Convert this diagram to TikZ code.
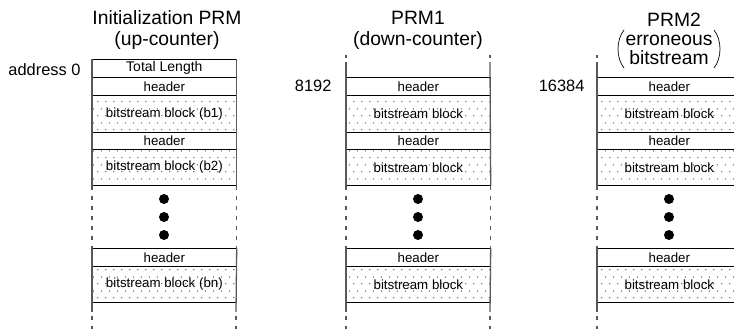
\documentclass[tikz,border=0pt]{standalone}
\usepackage{fontspec}
\setmainfont{Liberation Sans}
\usetikzlibrary{patterns.meta}
\tikzdeclarepattern{
  name=sparsedots,
  type=uncolored,
  bounding box={(0pt,0pt) and (8pt,14pt)},
  tile size={(8pt,14pt)},
  code={\fill (2pt,3.5pt) circle (0.7pt); \fill (6pt,10.5pt) circle (0.7pt);}
}
\begin{document}
\begin{tikzpicture}[x=1pt,y=-1pt,
  cell/.style={draw=black, line width=0.7pt, minimum width=144pt, inner sep=0pt, anchor=north west, font=\fontsize{13.3}{15}\selectfont},
  hdr/.style={cell, minimum height=18pt},
  bs/.style={cell, pattern=sparsedots, pattern color=black!75, minimum height=36pt},
  side/.style={draw=black!65, line width=1.3pt},
  sidedash/.style={side, dash pattern=on 4pt off 6pt},
  bigdot/.style={circle, fill=black, minimum size=10pt, inner sep=0pt},
  title/.style={align=center, font=\fontsize{19.3}{21}\selectfont},
  word/.style={inner sep=0pt, font=\fontsize{19.3}{21}\selectfont},
  paren/.style={draw=black, line width=0.7pt},
  addr/.style={anchor=east, font=\fontsize{16.4}{18}\selectfont}]
\useasboundingbox (0,0) rectangle (734,329);
\clip (0,0) rectangle (734,329);

% titles
\node[title] (t1) at (167,30.5) {Initialization PRM\\(up-counter)};
\node[title] (t2) at (418,30.5) {PRM1\\(down-counter)};
\node[title] (t3) at (674,20) {PRM2};
\node[word] (t3a) at (669,40) {erroneous};
\node[word] (t3b) at (669,57.5) {bitstream};
\draw[paren] (624,30) .. controls (616,40) and (616,58) .. (624,68);
\draw[paren] (714,30) .. controls (722,40) and (722,58) .. (714,68);

% address labels
\node[addr] (a1) at (84,70) {address 0};
\node[addr] (a2) at (335,86) {8192};
\node[addr] (a3) at (588,86) {16384};

% column 1
\node[cell, minimum height=18pt, font=\fontsize{14}{16}\selectfont] (tl) at (92,59) {Total Length};
\node[hdr] (h11) at (92,77) {header};
\node[bs, minimum height=37pt] (b11) at (92,95) {bitstream block (b1)};
\node[hdr, minimum height=17pt] (h12) at (92,132) {header};
\node[bs] (b12) at (92,149) {bitstream block (b2)};
\node[hdr] (h13) at (92,248) {header};
\node[bs] (b13) at (92,266) {bitstream block (bn)};
\node[bigdot] (d11) at (164,199) {};
\node[bigdot] (d12) at (164,217) {};
\node[bigdot] (d13) at (164,235) {};
\coordinate (e1l) at (92,312);
\coordinate (e1r) at (236,312);
\coordinate (z1l) at (92,329);
\coordinate (z1r) at (236,329);
\draw[side] (tl.north west) -- (b12.south west);
\draw[side] (tl.north east) -- (b12.south east);
\draw[sidedash] (b12.south west) -- (h13.north west);
\draw[sidedash] (b12.south east) -- (h13.north east);
\draw[side] (h13.north west) -- (e1l);
\draw[side] (h13.north east) -- (e1r);
\draw[sidedash, dash phase=-4pt] (e1l) -- (z1l);
\draw[sidedash, dash phase=-4pt] (e1r) -- (z1r);

% columns 2 and 3
\foreach \c/\x in {2/346, 3/597} {
  \node[hdr] (h\c1) at (\x,77) {header};
  \node[bs, minimum height=37pt] (b\c1) at (\x,95) {bitstream block};
  \node[hdr, minimum height=17pt] (h\c2) at (\x,132) {header};
  \node[bs] (b\c2) at (\x,149) {bitstream block};
  \node[hdr] (h\c3) at (\x,248) {header};
  \node[bs] (b\c3) at (\x,266) {bitstream block};
  \node[bigdot] (d\c1) at (\x+72,199) {};
  \node[bigdot] (d\c2) at (\x+72,217) {};
  \node[bigdot] (d\c3) at (\x+72,235) {};
  \coordinate (s\c l) at (\x,62);
  \coordinate (s\c r) at (\x+144,62);
  \coordinate (u\c l) at (\x,55);
  \coordinate (u\c r) at (\x+144,55);
  \coordinate (e\c l) at (\x,312);
  \coordinate (e\c r) at (\x+144,312);
  \coordinate (z\c l) at (\x,329);
  \coordinate (z\c r) at (\x+144,329);
  \draw[side] (u\c l) -- ++(0,3.5);
  \draw[side] (u\c r) -- ++(0,3.5);
  \draw[side] (s\c l) -- (b\c2.south west);
  \draw[side] (s\c r) -- (b\c2.south east);
  \draw[sidedash] (b\c2.south west) -- (h\c3.north west);
  \draw[sidedash] (b\c2.south east) -- (h\c3.north east);
  \draw[side] (h\c3.north west) -- (e\c l);
  \draw[side] (h\c3.north east) -- (e\c r);
  \draw[sidedash, dash phase=-4pt] (e\c l) -- (z\c l);
  \draw[sidedash, dash phase=-4pt] (e\c r) -- (z\c r);
}
\end{tikzpicture}
\end{document}
